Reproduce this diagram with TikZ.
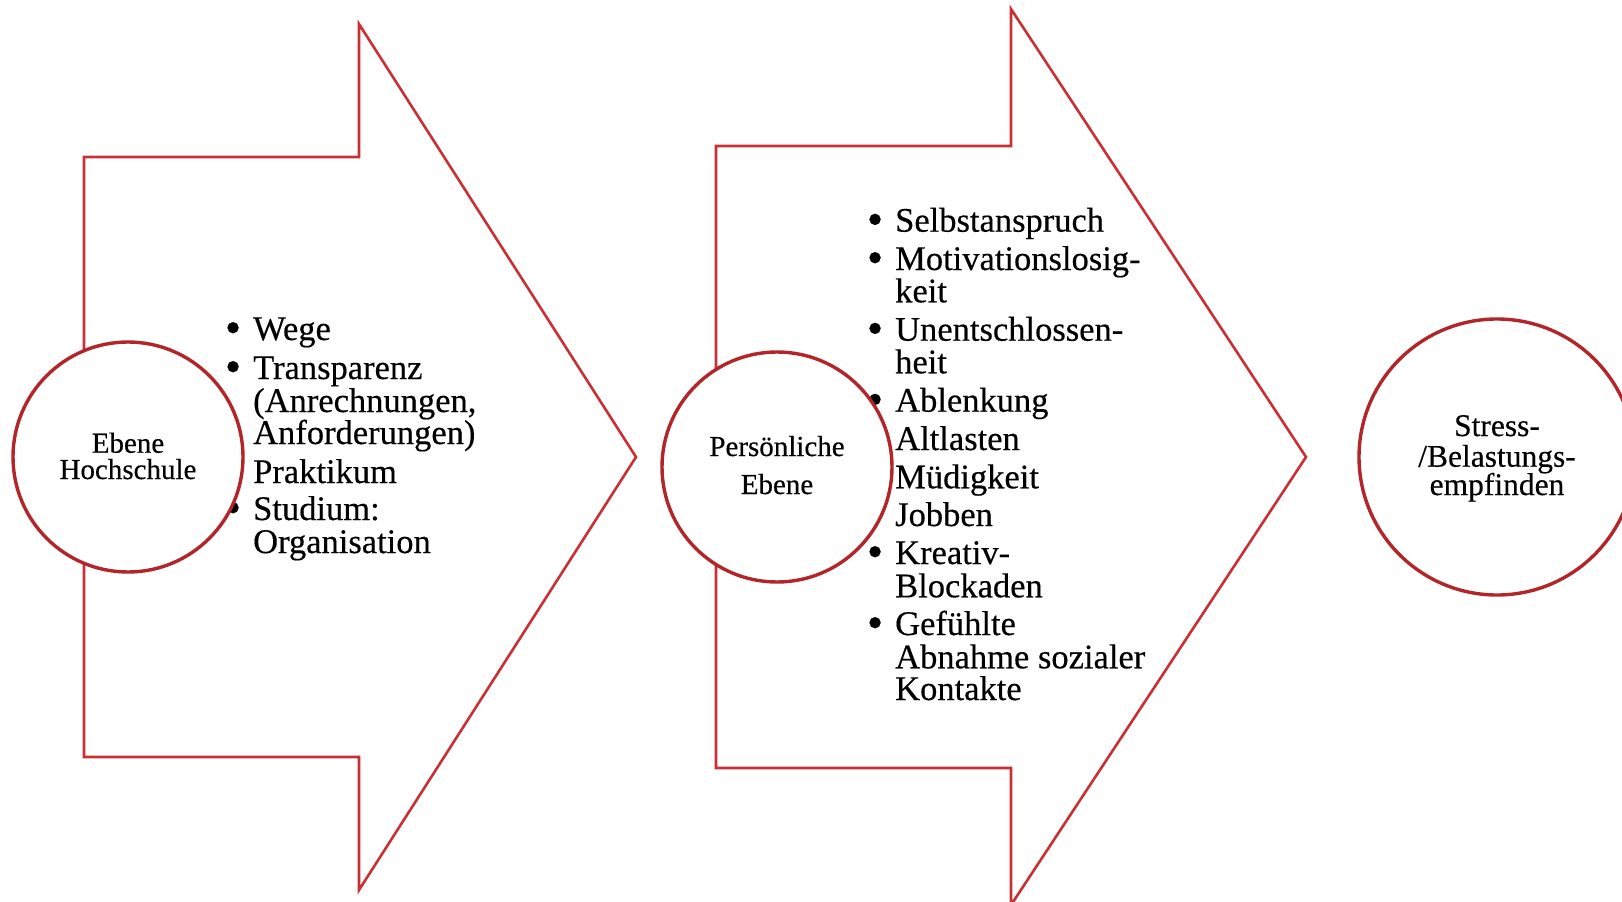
\documentclass[tikz,border=0pt]{standalone}
\usepackage{fontspec}
\setmainfont{Liberation Serif}[FakeBold=0.35]
\definecolor{arrowred}{RGB}{200,48,52}
\definecolor{circred}{RGB}{178,38,42}
\tikzset{
  arrowshape/.style={draw=arrowred, line width=2.6pt, line join=miter, fill=white},
  bigcirc/.style={circle, draw=circred, line width=3.4pt, fill=white, inner sep=0pt},
  listline/.style={anchor=base west, inner sep=0pt, font=\fontsize{34.5}{34.5}\selectfont},
  ctextA/.style={anchor=base, inner sep=0pt, font=\fontsize{29}{29}\selectfont},
  ctextB/.style={anchor=base, inner sep=0pt, font=\fontsize{31.5}{31.5}\selectfont},
}
\newcommand\blt{\llap{\smash{\raisebox{-0.09em}{\scalebox{1.35}{•}}}\hspace{12pt}}}
\begin{document}
\begin{tikzpicture}[x=1pt,y=-1pt]
\useasboundingbox (0,0) rectangle (1622,902);
% arrows
\draw[arrowshape] (84,157) -- (359,157) -- (359,24) -- (636,457) -- (359,890) -- (359,757) -- (84,757) -- cycle;
\draw[arrowshape] (716,146) -- (1011,146) -- (1011,9) -- (1306,457) -- (1011,905) -- (1011,768) -- (716,768) -- cycle;
% list 1
\foreach \y/\t/\n in {340/{\blt Wege}/1, 379/{\blt Transparenz}/2, 412/{(Anrechnungen,}/3, 444/{Anforderungen)}/4, 483/{Praktikum}/5, 520/{\blt Studium:}/6, 553/{Organisation}/7}
  \node[listline] (a\n) at (253,\y) {\t};
% list 2
\foreach \y/\t/\n in {231.7/{\blt Selbstanspruch}/1, 270/{\blt Motivationslosig-}/2, 302.3/{keit}/3, 340.7/{\blt Unentschlossen-}/4, 373.3/{heit}/5, 411.7/{\blt Ablenkung}/6, 450/{Altlasten}/7, 488.3/{Müdigkeit}/8, 526/{Jobben}/9, 564/{\blt Kreativ-}/10, 597.3/{Blockaden}/11, 635/{\blt Gefühlte}/12, 668.3/{Abnahme sozialer}/13, 700/{Kontakte}/14}
  \node[listline] (b\n) at (895,\y) {\t};
% circles
\node[bigcirc, minimum size=230pt] (c1) at (128,457) {};
\node[bigcirc, minimum size=230pt] (c2) at (777,467) {};
\node[bigcirc, minimum size=276pt] (c3) at (1497,457) {};
% circle texts
\node[ctextA] (c1a) at (128,452.7) {Ebene};
\node[ctextA] (c1b) at (128,479) {Hochschule};
\node[ctextA] (c2a) at (777,456) {Persönliche};
\node[ctextA] (c2b) at (777,494) {Ebene};
\node[ctextB] (c3a) at (1497,436) {Stress-};
\node[ctextB] (c3b) at (1497,466.7) {/Belastungs-};
\node[ctextB] (c3c) at (1497,495) {empfinden};
\end{tikzpicture}
\end{document}
